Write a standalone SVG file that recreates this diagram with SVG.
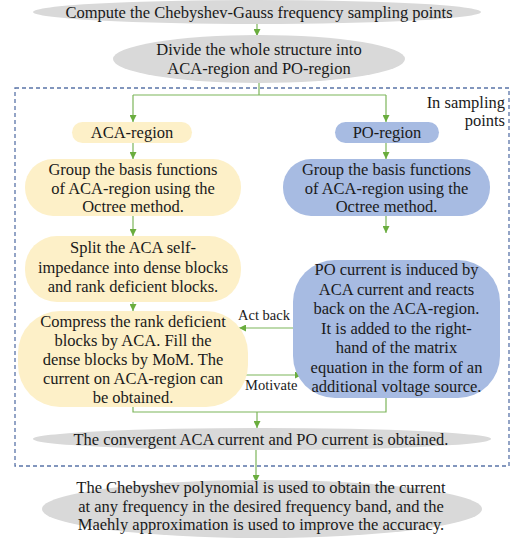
<svg xmlns="http://www.w3.org/2000/svg" width="514" height="544" viewBox="0 0 514 544">
<style>
text{font-family:"Liberation Serif","Times New Roman",serif;font-size:16.5px;fill:#1a1a1a;text-anchor:middle}
.sm{font-size:14.5px;text-anchor:start}
.gray{fill:#d9d9d9}
.yel{fill:#fdf0c8}
.blu{fill:#a7bbe2}
.con{fill:none;stroke:#7cb55a;stroke-width:1.2}
.arr{fill:none;stroke:#7cb55a;stroke-width:1.2;marker-end:url(#ah)}
</style>
<defs>
<marker id="ah" viewBox="0 0 10 10" refX="10" refY="5" markerWidth="7" markerHeight="7" markerUnits="userSpaceOnUse" orient="auto">
<path d="M0,0 L10,5 L0,10 z" fill="#6aad3e"/>
</marker>
</defs>
<rect x="15" y="88" width="494" height="378" fill="none" stroke="#5a74a8" stroke-width="1.3" stroke-dasharray="4,3"/>
<text x="505" y="108" style="text-anchor:end">In sampling</text>
<text x="505" y="126" style="text-anchor:end">points</text>
<g id="connectors">
<line class="arr" x1="257" y1="24" x2="257" y2="36"/>
<polyline class="con" points="259,83 259,95"/>
<polyline class="con" points="133,95 386,95"/>
<line class="arr" x1="133" y1="95" x2="133" y2="122"/>
<line class="arr" x1="386" y1="95" x2="386" y2="122"/>
<line class="arr" x1="133" y1="143" x2="133" y2="159"/>
<line class="arr" x1="386" y1="143" x2="386" y2="159"/>
<line class="arr" x1="133" y1="216" x2="133" y2="236"/>
<line class="arr" x1="386" y1="216" x2="386" y2="233"/>
<line class="arr" x1="133" y1="302" x2="133" y2="311"/>
<line class="arr" x1="295" y1="328" x2="239" y2="328"/>
<line class="arr" x1="246" y1="375" x2="302" y2="375"/>
<polyline class="con" points="133,407 133,412 386,412 386,398"/>
<line class="arr" x1="257" y1="412" x2="257" y2="428"/>
<line class="arr" x1="256" y1="450" x2="256" y2="482"/>
<text class="sm" x="238" y="320">Act back</text>
<text class="sm" x="245" y="390">Motivate</text>
</g>
<g id="n1">
<ellipse class="gray" cx="257" cy="12" rx="224" ry="12"/>
<text x="259" y="18">Compute the Chebyshev-Gauss frequency sampling points</text>
</g>
<g id="n2">
<ellipse class="gray" cx="259" cy="59" rx="146" ry="24"/>
<text x="259" y="55">Divide the whole structure into</text>
<text x="259" y="74">ACA-region and PO-region</text>
</g>
<g id="n3">
<rect class="yel" x="72" y="122" width="120" height="21" rx="10.5"/>
<text x="132" y="138">ACA-region</text>
</g>
<g id="n4">
<rect class="blu" x="335" y="122" width="104" height="21" rx="10.5"/>
<text x="387" y="138">PO-region</text>
</g>
<g id="n5">
<rect class="yel" x="25" y="159" width="216" height="57" rx="28"/>
<text x="133" y="175">Group the basis functions</text>
<text x="133" y="193.5">of ACA-region using the</text>
<text x="133" y="212">Octree method.</text>
</g>
<g id="n6">
<rect class="blu" x="283" y="159" width="207" height="57" rx="28"/>
<text x="386.5" y="175">Group the basis functions</text>
<text x="386.5" y="193.5">of ACA-region using the</text>
<text x="386.5" y="212">Octree method.</text>
</g>
<g id="n7">
<rect class="yel" x="25" y="236" width="216" height="66" rx="32"/>
<text x="133" y="253">Split the ACA self-</text>
<text x="133" y="272.5">impedance into dense blocks</text>
<text x="133" y="292">and rank deficient blocks.</text>
</g>
<g id="n8">
<rect class="yel" x="18" y="311" width="230" height="96" rx="42"/>
<text x="133" y="327">Compress the rank deficient</text>
<text x="133" y="346">blocks by ACA. Fill the</text>
<text x="133" y="365">dense blocks by MoM.  The</text>
<text x="133" y="384">current on ACA-region can</text>
<text x="133" y="403">be obtained.</text>
</g>
<g id="n9">
<rect class="blu" x="293" y="260" width="207" height="138" rx="42"/>
<text x="396.5" y="275">PO current is induced by</text>
<text x="396.5" y="294.5">ACA current and reacts</text>
<text x="396.5" y="314">back on the ACA-region.</text>
<text x="396.5" y="333.5">It is added to the right-</text>
<text x="396.5" y="353">hand of the matrix</text>
<text x="396.5" y="372.5">equation in the form of an</text>
<text x="396.5" y="392">additional voltage source.</text>
</g>
<g id="n10">
<ellipse class="gray" cx="262" cy="439" rx="229" ry="11"/>
<text x="261" y="445">The convergent ACA current and PO current is obtained.</text>
</g>
<g id="n11">
<ellipse class="gray" cx="262" cy="509" rx="220" ry="29"/>
<text x="261" y="493">The Chebyshev polynomial is used to obtain the current</text>
<text x="261" y="512">at any frequency in the desired frequency band, and the</text>
<text x="261" y="530">Maehly approximation is used to improve the accuracy.</text>
</g>
</svg>
